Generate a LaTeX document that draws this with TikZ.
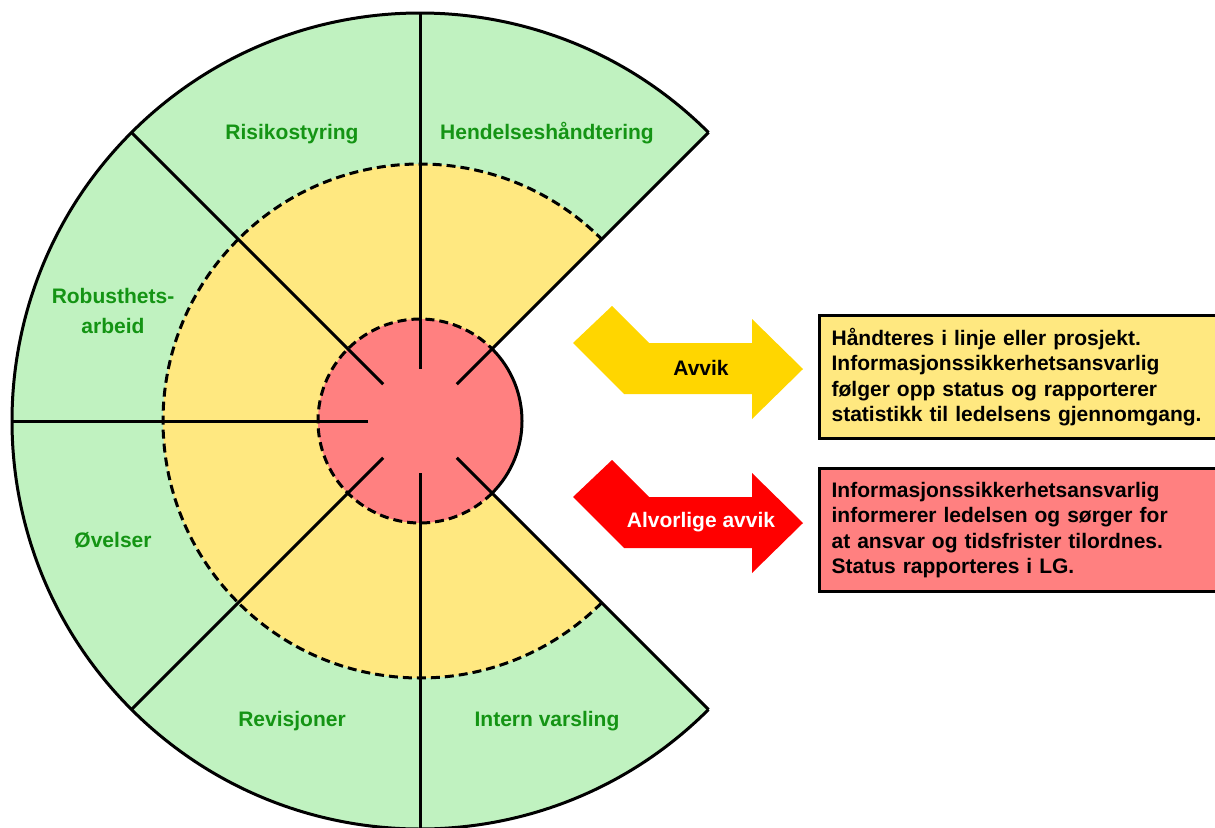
\documentclass[tikz,border=0pt]{standalone}
\usepackage{fontspec}
\setmainfont{Liberation Sans}
\definecolor{ringgreen}{RGB}{192,242,192}
\definecolor{ringyellow}{RGB}{255,232,128}
\definecolor{ringred}{RGB}{255,128,128}
\definecolor{labelgreen}{RGB}{20,148,20}
\definecolor{arrowyellow}{RGB}{255,214,0}
\definecolor{arrowred}{RGB}{255,0,0}
\begin{document}
\begin{tikzpicture}[x=1pt,y=-1pt,
  ringline/.style={line width=3pt},
  dashring/.style={line width=3pt, dash pattern=on 9pt off 5pt},
  seglabel/.style={font=\fontsize{21}{30}\selectfont\bfseries, text=labelgreen, align=center, inner sep=0pt},
  arrowlabel/.style={font=\fontsize{21}{25}\selectfont\bfseries, inner sep=0pt, anchor=base},
  infobox/.style={draw=black, line width=3.2pt, anchor=north west, minimum width=414pt, minimum height=123pt,
    text width=390pt, align=left, inner xsep=12pt, inner ysep=0pt,
    font=\fontsize{21}{25.3}\selectfont\bfseries}]
\useasboundingbox (0,0) rectangle (1215,827);
\clip (0,0) rectangle (1215,827);
\coordinate (C) at (420,421);
% fills
\fill[ringgreen] (C) -- ++(45:408) arc[start angle=45,end angle=315,radius=408] -- cycle;
\fill[ringyellow] (C) -- ++(45:257) arc[start angle=45,end angle=315,radius=257] -- cycle;
\fill[ringred] (C) circle[radius=102];
% outlines
\draw[dashring] (C) ++(45:257) arc[start angle=45,end angle=315,radius=257];
\draw[dashring] (C) ++(45:102) arc[start angle=45,end angle=315,radius=102];
\draw[ringline] (C) ++(-45:102) arc[start angle=-45,end angle=45,radius=102];
\draw[ringline] (C) ++(45:408) arc[start angle=45,end angle=315,radius=408];
\foreach \a in {45,90,...,315}
  \draw[ringline] (C) ++(\a:52) -- ++(\a:356);
% segment labels
\node[seglabel, anchor=base] (risiko) at (292,139.5) {Risikostyring};
\node[seglabel, anchor=base] (hendelse) at (547,139.5) {Hendelseshåndtering};
\node[seglabel] (robust) at (113,311) {Robusthets-\\arbeid};
\node[seglabel, anchor=base] (ovelser) at (113,547.5) {Øvelser};
\node[seglabel, anchor=base] (revisjon) at (292,726.5) {Revisjoner};
\node[seglabel, anchor=base] (intern) at (547,726.5) {Intern varsling};
% arrows
\fill[arrowyellow] (573,343) -- (612,306) -- (649,343) -- (752,343) -- (752,319) -- (803,369)
  -- (752,419) -- (752,394) -- (624,394) -- cycle;
\fill[arrowred] (573,497) -- (612,460) -- (649,497) -- (752,497) -- (752,473) -- (803,523)
  -- (752,573) -- (752,548) -- (624,548) -- cycle;
\node[arrowlabel] (avvik) at (701,375) {Avvik};
\node[arrowlabel, text=white] (alvorlig) at (701,527) {Alvorlige avvik};
% info boxes
\node[infobox, fill=ringyellow] (boxyellow) at (818,314)
  {Håndteres i linje eller prosjekt.\\Informasjonssikkerhetsansvarlig\\følger opp status og rapporterer\\statistikk til ledelsens gjennomgang.};
\node[infobox, fill=ringred] (boxred) at (818,467)
  {Informasjonssikkerhetsansvarlig\\informerer ledelsen og sørger for\\at ansvar og tidsfrister tilordnes.\\Status rapporteres i LG.};
\end{tikzpicture}
\end{document}
